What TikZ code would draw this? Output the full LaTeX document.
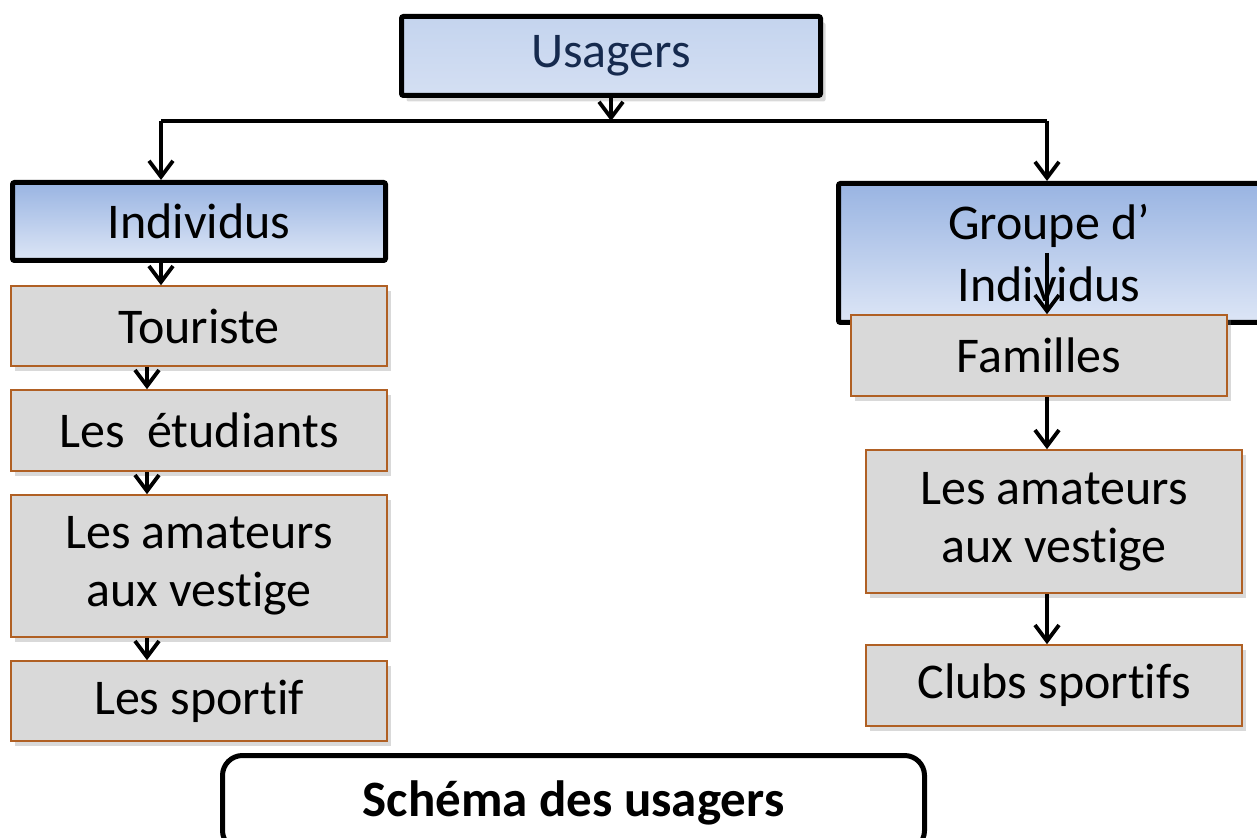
\documentclass[tikz,border=0pt]{standalone}
\usepackage{fontspec}
\setmainfont{Carlito}[Ligatures=NoCommon]
\usetikzlibrary{arrows.meta,shadows}

\definecolor{boxgrey}{RGB}{217,217,217}
\definecolor{boxedge}{RGB}{176,96,36}
\definecolor{blueTop}{RGB}{153,180,226}
\definecolor{blueBot}{RGB}{221,230,246}
\definecolor{usTop}{RGB}{196,212,238}
\definecolor{usBot}{RGB}{212,223,243}
\definecolor{navytext}{RGB}{22,42,78}

\tikzset{
  headbox/.style={draw=black, line width=2.5pt, rounded corners=1pt,
    top color=blueTop, bottom color=blueBot, align=center, inner sep=0pt,
    font=\fontsize{25}{31}\selectfont},
  itembox/.style={draw=boxedge, line width=0.8pt, fill=boxgrey, align=center,
    inner sep=0pt, font=\fontsize{25}{31}\selectfont,
    drop shadow={shadow xshift=2pt, shadow yshift=-2.5pt, opacity=0.3}},
  arr/.style={-{Straight Barb[length=8pt,width=12pt]}, line width=1.9pt},
}

\begin{document}
\begin{tikzpicture}[x=0.5pt,y=-0.5pt]
  \useasboundingbox (0,0) rectangle (1257,838);

  % Top box
  \node[headbox, top color=usTop, bottom color=usBot, text=navytext,
    minimum width=209.5pt, minimum height=39.5pt,
    drop shadow={shadow xshift=2.5pt, shadow yshift=-3pt, opacity=0.3}] (usagers) at (611,56) {\raisebox{-2pt}{Usagers}};

  % Bus line
  \coordinate (busL) at (161,121);
  \coordinate (busR) at (1047,121);
  \draw[line width=1.6pt] (busL) -- (busR);
  \draw[arr] (usagers.south) -- (usagers.south |- busL);

  % Second level
  \node[headbox, minimum width=186.5pt, minimum height=39pt] (individus) at (199,221.5) {Individus};
  \node[headbox, minimum width=210.5pt, minimum height=69.5pt] (groupe) at (1049,253) {Groupe d’\\Individus};
  \draw[arr] (busL) -- (busL |- individus.north);
  \draw[arr] (busR) -- (busR |- groupe.north);

  % Left column
  \node[itembox, minimum width=188pt, minimum height=40pt] (touriste) at (199,326) {Touriste};
  \node[itembox, minimum width=188pt, minimum height=40.5pt] (etudiants) at (199,430.5) {Les~~étudiants};
  \node[itembox, minimum width=188pt, minimum height=71pt] (amateursL) at (199,566) {\raisebox{-2pt}{Les amateurs}\\aux vestige};
  \node[itembox, minimum width=188pt, minimum height=40pt] (sportif) at (199,701) {Les sportif};

  \coordinate (colL) at (147,0);
  \draw[arr] (busL |- individus.south) -- (busL |- touriste.north);
  \draw[arr] (colL |- touriste.south) -- (colL |- etudiants.north);
  \draw[arr] (colL |- etudiants.south) -- (colL |- amateursL.north);
  \draw[arr] (colL |- amateursL.south) -- (colL |- sportif.north);

  % Right column
  \node[itembox, minimum width=188pt, minimum height=40.5pt] (familles) at (1039,355.5) {Familles};
  \node[itembox, minimum width=188pt, minimum height=71.5pt] (amateursR) at (1054,521.5) {\raisebox{-2pt}{Les amateurs}\\aux vestige};
  \node[itembox, minimum width=188pt, minimum height=40.5pt] (clubs) at (1054,685.5) {Clubs sportifs};

  \draw[arr] (busR |- groupe.center) -- (busR |- familles.north);
  \draw[arr] (busR |- familles.south) -- (busR |- amateursR.north);
  \draw[arr] (busR |- amateursR.south) -- (busR |- clubs.north);

  % Caption
  \node[draw=black, line width=2.5pt, rounded corners=10pt, fill=white,
    minimum width=351pt, minimum height=47.5pt, inner sep=0pt,
    font=\bfseries\fontsize{25.5}{30}\selectfont] (schema) at (573.5,803) {Schéma des usagers};
\end{tikzpicture}
\end{document}
